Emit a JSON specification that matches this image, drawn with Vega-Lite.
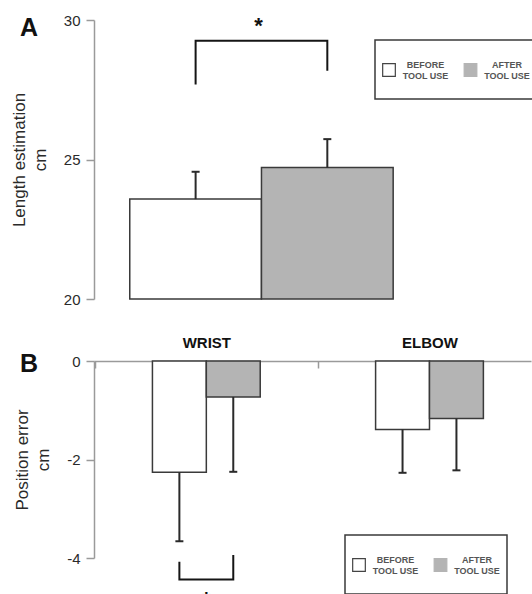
{
  "$schema": "https://vega.github.io/schema/vega-lite/v6.json",
  "background": "white",
  "padding": {"left": 10, "top": 13, "right": 0, "bottom": 0},
  "bounds": "flush",
  "spacing": 62,
  "resolve": {"scale": {"fill": "independent"}, "legend": {"fill": "independent"}},
  "datasets": {
    "lengthEst": [
      {"condition": "BEFORE", "mean": 23.58, "upper": 24.56},
      {"condition": "AFTER", "mean": 24.71, "upper": 25.73}
    ],
    "bracketA": [
      {"condition": "BEFORE", "y": 27.69, "step": 1},
      {"condition": "BEFORE", "y": 29.26, "step": 2},
      {"condition": "AFTER", "y": 29.26, "step": 3},
      {"condition": "AFTER", "y": 28.18, "step": 4}
    ],
    "starA": [{"condition": "BEFORE", "label": "*"}],
    "posErr": [
      {"part": "WRIST", "condition": "BEFORE", "mean": -2.26, "lower": -3.66},
      {"part": "WRIST", "condition": "AFTER", "mean": -0.73, "lower": -2.25},
      {"part": "ELBOW", "condition": "BEFORE", "mean": -1.39, "lower": -2.27},
      {"part": "ELBOW", "condition": "AFTER", "mean": -1.17, "lower": -2.22}
    ],
    "bracketB": [
      {"part": "WRIST", "condition": "BEFORE", "y": -4.075, "step": 1},
      {"part": "WRIST", "condition": "BEFORE", "y": -4.434, "step": 2},
      {"part": "WRIST", "condition": "AFTER", "y": -4.434, "step": 3},
      {"part": "WRIST", "condition": "AFTER", "y": -3.94, "step": 4}
    ],
    "starB": [{"part": "WRIST", "label": "*"}]
  },
  "vconcat": [
    {
      "width": 437,
      "height": 279,
      "title": {"text": "A", "anchor": "start", "frame": "group", "orient": "top", "fontSize": 25, "fontWeight": "bold", "color": "#111", "font": "Liberation Sans", "dx": -74, "dy": 47.6, "offset": 0, "baseline": "alphabetic"},
      "encoding": {
        "x": {"field": "condition", "type": "nominal", "scale": {"type": "band", "domain": ["BEFORE", "AFTER"], "paddingInner": 0, "paddingOuter": 0.659, "align": 0.206}, "axis": null}
      },
      "layer": [
        {
          "data": {"name": "lengthEst"},
          "mark": {"type": "bar", "stroke": "#3a3a3a", "strokeWidth": 1.5},
          "encoding": {
            "y": {"field": "mean", "type": "quantitative", "scale": {"domain": [20, 30], "zero": false, "nice": false},
                  "axis": {"values": [20, 25, 30], "title": ["Length estimation", "cm"], "titlePadding": 14}},
            "y2": {"datum": 20},
            "fill": {"field": "condition", "type": "nominal", "scale": {"domain": ["BEFORE", "AFTER"], "range": ["#ffffff", "#b4b4b4"]},
                     "legend": {"title": null, "legendX": 281, "legendY": 20,
                                "labelExpr": "[' ', datum.label, 'TOOL USE', ' ']",
                                "encode": {"symbols": {"update": {"y": {"value": 23}, "stroke": {"signal": "datum.value === 'AFTER' ? '#b4b4b4' : '#444444'"}}},
                                           "labels": {"update": {"lineHeight": {"value": 11}}},
                                           "legend": {"update": {"strokeWidth": {"value": 1.5}}}}}}
          }
        },
        {
          "data": {"name": "lengthEst"},
          "mark": {"type": "rule", "color": "#2a2a2a", "strokeWidth": 2},
          "encoding": {"y": {"field": "mean", "type": "quantitative"}, "y2": {"field": "upper"}}
        },
        {
          "data": {"name": "lengthEst"},
          "mark": {"type": "tick", "orient": "horizontal", "size": 8, "thickness": 2, "color": "#2a2a2a", "opacity": 1},
          "encoding": {"y": {"field": "upper", "type": "quantitative"}}
        },
        {
          "data": {"name": "bracketA"},
          "mark": {"type": "line", "color": "#151515", "strokeWidth": 2},
          "encoding": {"y": {"field": "y", "type": "quantitative"}, "order": {"field": "step", "type": "quantitative"}}
        },
        {
          "data": {"name": "starA"},
          "mark": {"type": "text", "fontSize": 22, "fontWeight": "bold", "color": "#111", "baseline": "alphabetic", "font": "Liberation Sans", "dx": -3},
          "encoding": {
            "x": {"field": "condition", "type": "nominal", "bandPosition": 1, "axis": null},
            "y": {"datum": 29.55},
            "text": {"field": "label"}
          }
        }
      ]
    },
    {
      "width": 437,
      "height": 197,
      "title": {"text": "B", "anchor": "start", "frame": "group", "orient": "top", "fontSize": 25, "fontWeight": "bold", "color": "#111", "font": "Liberation Sans", "dx": -74, "dy": 62.3, "offset": 0, "baseline": "alphabetic"},
      "encoding": {
        "x": {"field": "part", "type": "nominal", "scale": {"type": "band", "domain": ["WRIST", "ELBOW"], "paddingInner": 0.517, "paddingOuter": 0.2376, "align": 0.551},
              "axis": {"orient": "top", "title": null, "labelFontSize": 15, "labelFontWeight": "bold", "labelColor": "#111", "labelAngle": 0, "tickSize": -7, "tickOffset": -111.6, "labelOffset": 111.6, "labelPadding": 18}}
      },
      "layer": [
        {
          "data": {"name": "posErr"},
          "mark": {"type": "bar", "stroke": "#3a3a3a", "strokeWidth": 1.5},
          "encoding": {
            "xOffset": {"field": "condition", "type": "nominal", "scale": {"domain": ["BEFORE", "AFTER"], "paddingInner": 0, "paddingOuter": 0}},
            "y": {"field": "mean", "type": "quantitative", "scale": {"domain": [-4, 0], "zero": false, "nice": false},
                  "axis": {"values": [0, -2, -4], "title": ["Position error", "cm"], "titlePadding": 14, "labelExpr": "replace(datum.label, '−', '-')"}},
            "y2": {"datum": 0},
            "fill": {"field": "condition", "type": "nominal", "scale": {"domain": ["BEFORE", "AFTER"], "range": ["#ffffff", "#b4b4b4"]},
                     "legend": {"title": null, "legendX": 251, "legendY": 174,
                                "labelExpr": "[' ', datum.label, 'TOOL USE', ' ']",
                                "encode": {"symbols": {"update": {"y": {"value": 23}, "stroke": {"signal": "datum.value === 'AFTER' ? '#b4b4b4' : '#444444'"}}},
                                           "labels": {"update": {"lineHeight": {"value": 11}}},
                                           "legend": {"update": {"strokeWidth": {"value": 1.5}}}}}}
          }
        },
        {
          "data": {"name": "posErr"},
          "mark": {"type": "rule", "color": "#2a2a2a", "strokeWidth": 2},
          "encoding": {
            "xOffset": {"field": "condition", "type": "nominal"},
            "y": {"field": "mean", "type": "quantitative"}, "y2": {"field": "lower"}}
        },
        {
          "data": {"name": "posErr"},
          "mark": {"type": "tick", "orient": "horizontal", "size": 8, "thickness": 2, "color": "#2a2a2a", "opacity": 1},
          "encoding": {
            "xOffset": {"field": "condition", "type": "nominal"},
            "y": {"field": "lower", "type": "quantitative"}}
        },
        {
          "data": {"name": "bracketB"},
          "mark": {"type": "line", "color": "#151515", "strokeWidth": 2},
          "encoding": {
            "xOffset": {"field": "condition", "type": "nominal"},
            "y": {"field": "y", "type": "quantitative"}, "order": {"field": "step", "type": "quantitative"}}
        },
        {
          "data": {"name": "starB"},
          "mark": {"type": "text", "fontSize": 22, "fontWeight": "bold", "color": "#111", "baseline": "alphabetic", "font": "Liberation Sans"},
          "encoding": {"y": {"datum": -5.0}, "text": {"field": "label"}}
        }
      ]
    }
  ],
  "config": {
    "view": {"stroke": null},
    "font": "Liberation Sans",
    "axis": {"grid": false, "domainColor": "#9a9a9a", "domainWidth": 1.5, "tickColor": "#9a9a9a", "tickWidth": 1.5, "tickSize": 8,
             "labelFont": "Liberation Sans", "labelFontSize": 15, "labelColor": "#2a2a2a", "labelPadding": 6,
             "titleFont": "Liberation Sans", "titleFontSize": 17, "titleFontWeight": "normal", "titleColor": "#2a2a2a", "titleLineHeight": 21},
    "legend": {"orient": "none", "direction": "horizontal", "symbolType": "square", "symbolSize": 160, "symbolStrokeWidth": 1.2, "symbolStrokeColor": "#444444",
               "labelFont": "Liberation Sans", "labelFontSize": 9, "labelFontWeight": "bold", "labelColor": "#555555", "labelAlign": "center", "labelOffset": 29.5,
               "labelLimit": 0, "columnPadding": 12.5, "padding": 7, "strokeColor": "#3a3a3a"}
  }
}
